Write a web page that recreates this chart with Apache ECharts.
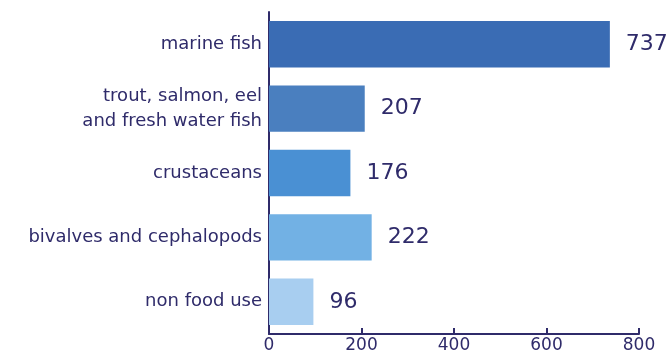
<!DOCTYPE html>
<html><head><meta charset="utf-8">
<script src="https://cdn.jsdelivr.net/npm/echarts@6/dist/echarts.min.js"></script>
<style>html,body{margin:0;padding:0;background:#fff}#c{width:672px;height:355px}</style>
</head><body><div id="c"></div>
<script>
const categories = ["marine fish", "trout, salmon, eel\nand fresh water fish", "crustaceans", "bivalves and cephalopods", "non food use"];
const values = [737, 207, 176, 222, 96];
const barColors = ["#3A6CB4", "#4A7FBF", "#4A90D3", "#72B1E4", "#A8CEF0"];
const xTicks = [0, 200, 400, 600, 800];

const navy = "#2F2B6A";
const chart = echarts.init(document.getElementById('c'));
chart.setOption({
  animation: false,
  grid: {left: 269, right: 33, top: 12, bottom: 21, containLabel: false},
  xAxis: {
    type: 'value', min: 0, max: 800, interval: 200,
    axisLine: {show: true, lineStyle: {color: navy, width: 2}},
    axisTick: {show: true, inside: true, length: 6, lineStyle: {color: navy, width: 2}},
    splitLine: {show: false},
    axisLabel: {color: navy, fontFamily: 'DejaVu Sans', fontSize: 17, margin: 3,
      formatter: v => xTicks.includes(v) ? String(v) : ''}
  },
  yAxis: {
    type: 'category', data: categories, inverse: true,
    axisLine: {show: true, lineStyle: {color: navy, width: 2}},
    axisTick: {show: false},
    axisLabel: {color: navy, fontFamily: 'DejaVu Sans', fontSize: 18, margin: 7, lineHeight: 25, align: 'right'}
  },
  series: [{
    type: 'bar',
    data: values.map((v, i) => ({value: v, itemStyle: {color: barColors[i]}})),
    barCategoryGap: '28%',
    label: {show: true, position: 'right', distance: 16, color: navy, fontFamily: 'DejaVu Sans', fontSize: 22}
  }]
});
</script></body></html>
